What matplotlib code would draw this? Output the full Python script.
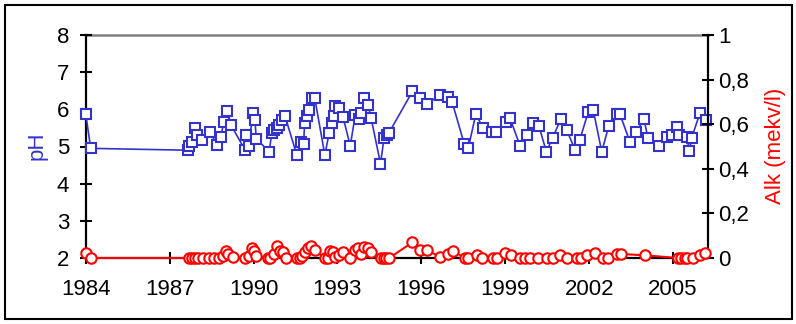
import matplotlib
matplotlib.use('Agg')
import matplotlib.pyplot as plt
from matplotlib.patches import Rectangle

plt.rcParams['font.family'] = ['Liberation Sans', 'DejaVu Sans']

# pH samples (decimal year, pH)
ph_year = [1984.00, 1984.18, 1987.66, 1987.70, 1987.80, 1987.90, 1987.99, 1988.17,
           1988.44, 1988.70, 1988.84, 1988.93, 1989.05, 1989.20, 1989.70, 1989.74,
           1989.83, 1989.98, 1990.05, 1990.10, 1990.56, 1990.65, 1990.74, 1990.83,
           1990.92, 1991.03, 1991.12, 1991.55, 1991.68, 1991.79, 1991.83, 1991.93,
           1992.00, 1992.08, 1992.19, 1992.55, 1992.70, 1992.79, 1992.86, 1992.91,
           1993.04, 1993.20, 1993.46, 1993.64, 1993.76, 1993.86, 1993.96, 1994.10,
           1994.20, 1994.54, 1994.67, 1994.76, 1994.83, 1995.68, 1995.94, 1996.19,
           1996.68, 1996.95, 1997.10, 1997.53, 1997.68, 1997.95, 1998.20, 1998.53,
           1998.66, 1999.02, 1999.16, 1999.53, 1999.77, 1999.98, 2000.20, 2000.47,
           2000.70, 2000.98, 2001.20, 2001.50, 2001.66, 2001.97, 2002.15, 2002.45,
           2002.70, 2003.00, 2003.10, 2003.46, 2003.68, 2003.96, 2004.10, 2004.50,
           2004.77, 2004.96, 2005.13, 2005.23, 2005.50, 2005.58, 2005.67, 2005.96,
           2006.17]
ph_value = [5.88, 4.95, 4.90, 5.02, 5.12, 5.50, 5.30, 5.17,
            5.39, 5.04, 5.26, 5.66, 5.95, 5.57, 4.90, 5.30,
            5.02, 5.90, 5.70, 5.21, 4.86, 5.35, 5.44, 5.50,
            5.57, 5.70, 5.83, 4.77, 5.12, 5.08, 5.64, 5.81,
            5.99, 6.30, 6.30, 4.77, 5.35, 5.62, 5.81, 6.10,
            6.04, 5.79, 5.02, 5.86, 5.73, 5.90, 6.30, 6.11,
            5.78, 4.54, 5.24, 5.30, 5.35, 6.48, 6.31, 6.15,
            6.38, 6.33, 6.20, 5.08, 4.96, 5.88, 5.50, 5.39,
            5.39, 5.66, 5.78, 5.02, 5.30, 5.62, 5.56, 4.86,
            5.24, 5.73, 5.44, 4.90, 5.17, 5.93, 5.97, 4.86,
            5.55, 5.87, 5.87, 5.12, 5.39, 5.73, 5.24, 5.02,
            5.26, 5.32, 5.53, 5.30, 5.26, 4.88, 5.24, 5.90,
            5.70]

# alkalinity samples (decimal year, mekv/l)
alk_year = [1984.00, 1984.18, 1987.70, 1987.80, 1987.90, 1988.00, 1988.20, 1988.40,
            1988.60, 1988.75, 1988.90, 1989.00, 1989.10, 1989.25, 1989.70, 1989.85,
            1989.95, 1990.02, 1990.10, 1990.50, 1990.60, 1990.75, 1990.85, 1990.95,
            1991.05, 1991.15, 1991.55, 1991.65, 1991.75, 1991.85, 1991.95, 1992.05,
            1992.20, 1992.55, 1992.65, 1992.75, 1992.85, 1992.92, 1993.05, 1993.20,
            1993.45, 1993.62, 1993.75, 1993.85, 1993.95, 1994.08, 1994.20, 1994.55,
            1994.65, 1994.75, 1994.85, 1995.68, 1995.95, 1996.20, 1996.68, 1996.95,
            1997.14, 1997.57, 1997.68, 1998.00, 1998.18, 1998.57, 1998.71, 1999.00,
            1999.20, 1999.54, 1999.71, 1999.90, 2000.18, 2000.50, 2000.71, 2000.96,
            2001.20, 2001.57, 2001.71, 2001.93, 2002.20, 2002.50, 2002.68, 2003.00,
            2003.14, 2004.00, 2005.18, 2005.30, 2005.43, 2005.50, 2005.70, 2005.96,
            2006.14]
alk_value = [0.022, 0.0, 0.0, 0.0, 0.0, 0.0, 0.0, 0.0,
             0.0, 0.0, 0.01, 0.03, 0.02, 0.005, 0.0, 0.01,
             0.045, 0.03, 0.01, 0.0, 0.0, 0.02, 0.052, 0.03,
             0.025, 0.0, 0.0, 0.0, 0.008, 0.025, 0.045, 0.052,
             0.035, 0.0, 0.0, 0.03, 0.025, 0.005, 0.015, 0.025,
             0.0, 0.035, 0.045, 0.02, 0.05, 0.045, 0.025, 0.0,
             0.0, 0.0, 0.0, 0.07, 0.035, 0.035, 0.005, 0.02,
             0.03, 0.0, 0.0, 0.012, 0.0, 0.0, 0.0, 0.022,
             0.012, 0.0, 0.0, 0.0, 0.0, 0.0, 0.0, 0.012,
             0.0, 0.0, 0.0, 0.012, 0.022, 0.0, 0.0, 0.018,
             0.018, 0.012, 0.0, 0.0, 0.0, 0.0, 0.0, 0.012,
             0.022]

x_ticks = [1984, 1987, 1990, 1993, 1996, 1999, 2002, 2005]
ph_ticks = [2, 3, 4, 5, 6, 7, 8]
alk_ticks = [0, 0.2, 0.4, 0.6, 0.8, 1.0]
alk_tick_labels = ['0', '0,2', '0,4', '0,6', '0,8', '1']

BLUE = '#3333CC'
RED = '#FF0000'
W, H = 796, 324

fig = plt.figure(figsize=(W / 100, H / 100), dpi=100)
ax = fig.add_axes([85.7 / W, 1 - 258 / H, 622.6 / W, 223 / H])
ax2 = ax.twinx()

ax.plot(ph_year, ph_value, color=BLUE, lw=1.2, marker='s', ms=7.5,
        mfc='white', mec=BLUE, mew=1.5, clip_on=False, zorder=3)
ax2.plot(alk_year, alk_value, color=RED, lw=1.5, marker='o', ms=7.5,
         mfc='white', mec=RED, mew=1.5, clip_on=False, zorder=3)

ax.set_xlim(1984, 2006.26)
ax.set_ylim(2, 8)
ax2.set_ylim(0, 1)
ax.set_xticks(x_ticks)
ax.set_yticks(ph_ticks)
ax2.set_yticks(alk_ticks)
ax2.set_yticklabels(alk_tick_labels)

for s in ['top', 'right']:
    ax.spines[s].set_visible(False)
for s in ['left', 'bottom', 'top']:
    ax2.spines[s].set_visible(False)
ax.spines['left'].set_linewidth(1.6)
ax.spines['bottom'].set_linewidth(1.6)
ax2.spines['right'].set_linewidth(1.6)
ax.axhline(8, color='#808080', lw=1.8, clip_on=False, zorder=1)

ax.tick_params(axis='both', direction='inout', length=8, width=1.5, labelsize=16)
ax.tick_params(axis='x', pad=11)
ax.tick_params(axis='y', pad=8)
ax2.tick_params(axis='y', direction='inout', length=8, width=1.5, labelsize=16, pad=3)

fig.text(37 / W, 1 - 146 / H, 'pH', color=BLUE, fontsize=16, rotation=90,
         ha='center', va='center')
fig.text(775 / W, 1 - 146 / H, 'Alk (mekv/l)', color=RED, fontsize=16, rotation=90,
         ha='center', va='center')

fig.add_artist(Rectangle((5 / W, 1 - 319 / H), 787 / W, 314 / H, transform=fig.transFigure,
                         fill=False, edgecolor='black', lw=1.5))

fig.savefig('out.png', dpi=100)
